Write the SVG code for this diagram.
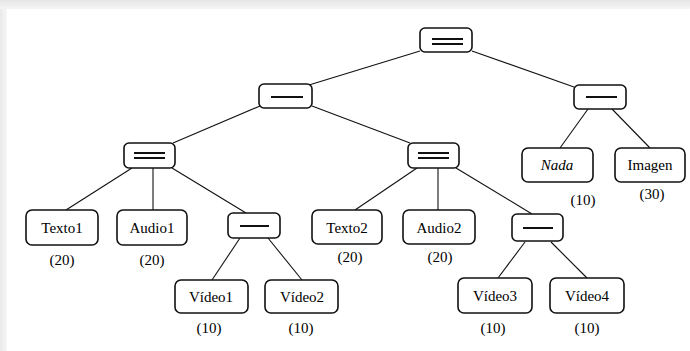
<svg xmlns="http://www.w3.org/2000/svg" width="690" height="351" viewBox="0 0 690 351">
<defs>
<linearGradient id="gt" x1="0" y1="0" x2="0" y2="1"><stop offset="0" stop-color="#e6e6e6"/><stop offset="1" stop-color="#f4f4f4"/></linearGradient>
<linearGradient id="gl" x1="0" y1="0" x2="1" y2="0"><stop offset="0" stop-color="#e9e9e9"/><stop offset="1" stop-color="#f6f6f6"/></linearGradient>
</defs>
<rect x="0" y="0" width="690" height="351" fill="#fff"/>
<rect x="0" y="0" width="690" height="9" fill="url(#gt)"/>
<rect x="0" y="9" width="7" height="342" fill="url(#gl)"/>
<g id="connectors" stroke="#111" stroke-width="1.1" fill="none">
<line x1="420" y1="51" x2="309" y2="85"/>
<line x1="472" y1="51" x2="574" y2="87"/>
<line x1="260" y1="106" x2="173" y2="143"/>
<line x1="312" y1="106" x2="410" y2="143"/>
<line x1="588" y1="109" x2="560" y2="148"/>
<line x1="612" y1="109" x2="650" y2="148"/>
<line x1="132" y1="168" x2="66" y2="210"/>
<line x1="153" y1="168" x2="153" y2="210"/>
<line x1="172" y1="168" x2="246" y2="213"/>
<line x1="417" y1="168" x2="355" y2="210"/>
<line x1="438" y1="168" x2="438" y2="210"/>
<line x1="456" y1="168" x2="532" y2="214"/>
<line x1="240" y1="238" x2="212" y2="280"/>
<line x1="268" y1="238" x2="302" y2="280"/>
<line x1="525" y1="242" x2="498" y2="278"/>
<line x1="551" y1="242" x2="587" y2="278"/>
</g>
<g fill="#fff" stroke="#111" stroke-width="1.6">
<g id="root"><rect x="420" y="28" width="52" height="24" rx="5"/><path d="M432 39H463M432 44H463" stroke-width="2"/></g>
<g id="seqL"><rect x="259" y="84" width="53" height="24" rx="5"/><path d="M271 97H303" stroke-width="2"/></g>
<g id="seqR"><rect x="574" y="85" width="52" height="24" rx="5"/><path d="M586 97H617" stroke-width="2"/></g>
<g id="parL"><rect x="124" y="143" width="51" height="25" rx="5"/><path d="M134 153H165M134 158H165" stroke-width="2"/></g>
<g id="parM"><rect x="408" y="143" width="51" height="25" rx="5"/><path d="M418 153H449M418 158H449" stroke-width="2"/></g>
<g id="seqA"><rect x="228" y="213" width="52" height="25" rx="5"/><path d="M240 226H269" stroke-width="2"/></g>
<g id="seqB"><rect x="512" y="214" width="51" height="27" rx="5"/><path d="M523 228H553" stroke-width="2"/></g>
<g id="nada"><rect x="522" y="148" width="71" height="34" rx="6"/></g>
<g id="imagen"><rect x="615" y="148" width="70" height="34" rx="6"/></g>
<g id="texto1"><rect x="26" y="210" width="72" height="35" rx="6"/></g>
<g id="audio1"><rect x="117" y="210" width="70" height="35" rx="6"/></g>
<g id="texto2"><rect x="312" y="210" width="70" height="34" rx="6"/></g>
<g id="audio2"><rect x="403" y="210" width="72" height="34" rx="6"/></g>
<g id="video1"><rect x="175" y="280" width="73" height="33" rx="6"/></g>
<g id="video2"><rect x="265" y="280" width="73" height="33" rx="6"/></g>
<g id="video3"><rect x="458" y="278" width="74" height="35" rx="6"/></g>
<g id="video4"><rect x="550" y="278" width="74" height="35" rx="6"/></g>
</g>
<text x="557" y="170" font-family="Liberation Serif" font-size="15" text-anchor="middle" font-style="italic">Nada</text>
<text x="583" y="205" font-family="Liberation Serif" font-size="15" text-anchor="middle">(10)</text>
<text x="650" y="170" font-family="Liberation Serif" font-size="15" text-anchor="middle">Imagen</text>
<text x="652" y="199" font-family="Liberation Serif" font-size="15" text-anchor="middle">(30)</text>
<text x="62" y="233" font-family="Liberation Serif" font-size="15" text-anchor="middle">Texto1</text>
<text x="62" y="265" font-family="Liberation Serif" font-size="15" text-anchor="middle">(20)</text>
<text x="152" y="233" font-family="Liberation Serif" font-size="15" text-anchor="middle">Audio1</text>
<text x="152" y="265" font-family="Liberation Serif" font-size="15" text-anchor="middle">(20)</text>
<text x="347" y="233" font-family="Liberation Serif" font-size="15" text-anchor="middle">Texto2</text>
<text x="350" y="262" font-family="Liberation Serif" font-size="15" text-anchor="middle">(20)</text>
<text x="439" y="233" font-family="Liberation Serif" font-size="15" text-anchor="middle">Audio2</text>
<text x="440" y="262" font-family="Liberation Serif" font-size="15" text-anchor="middle">(20)</text>
<text x="211" y="302" font-family="Liberation Serif" font-size="15" text-anchor="middle">Vídeo1</text>
<text x="209" y="333" font-family="Liberation Serif" font-size="15" text-anchor="middle">(10)</text>
<text x="302" y="302" font-family="Liberation Serif" font-size="15" text-anchor="middle">Vídeo2</text>
<text x="301" y="333" font-family="Liberation Serif" font-size="15" text-anchor="middle">(10)</text>
<text x="495" y="301" font-family="Liberation Serif" font-size="15" text-anchor="middle">Vídeo3</text>
<text x="493" y="333" font-family="Liberation Serif" font-size="15" text-anchor="middle">(10)</text>
<text x="587" y="301" font-family="Liberation Serif" font-size="15" text-anchor="middle">Vídeo4</text>
<text x="587" y="333" font-family="Liberation Serif" font-size="15" text-anchor="middle">(10)</text>
</svg>
